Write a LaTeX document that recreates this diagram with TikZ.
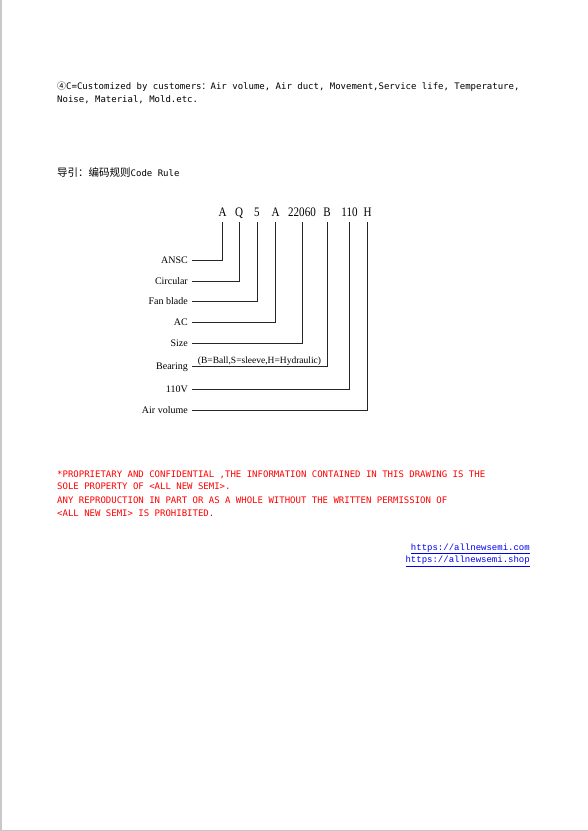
\documentclass[tikz,border=0pt]{standalone}
\usepackage{fontspec}
\usepackage{graphicx}
\setmainfont{Liberation Serif}
\newfontfamily\monofont{DejaVu Sans Mono}
\newfontfamily\linkfont{Liberation Mono}
\newfontfamily\cjkfont{Noto Sans CJK SC}
\definecolor{linkblue}{RGB}{0,0,238}
\definecolor{framegray}{RGB}{200,200,200}
\newcommand{\narrowtxt}[1]{\scalebox{0.85}[1]{#1}}
\tikzstyle{codechar}=[anchor=base, inner xsep=0pt, inner ysep=6pt, text depth=0pt, font=\fontsize{13}{15}\selectfont]
\tikzstyle{codelabel}=[anchor=east, inner xsep=4pt, inner ysep=0pt, text height=6pt, text depth=0pt, font=\fontsize{10}{12}\selectfont]
\tikzstyle{codeline}=[draw=black!85, line width=0.8pt]
\tikzstyle{plaintext}=[anchor=base west, inner sep=0pt, font=\monofont\fontsize{9}{11}\selectfont]
\tikzstyle{linktext}=[plaintext, anchor=base east, text=linkblue, font=\linkfont\fontsize{9}{11}\selectfont]
\begin{document}
\begin{tikzpicture}[x=1pt, y=-1pt]
        \useasboundingbox (0,0) rectangle (588,831);
        \fill[framegray] (0,0) rectangle (1.5,831);
        \fill[framegray] (0,829.5) rectangle (588,831);
        % customer note
        \node[plaintext] (tCustom1) at (57,89) {{\cjkfont ④}C=Customized by customers{\cjkfont ：}Air volume, Air duct, Movement,Service life, Temperature,};
        \node[plaintext] (tCustom2) at (57,102.6) {Noise, Material, Mold.etc.};
        \node[plaintext] (tHeader) at (57,176.7) {{\cjkfont\fontsize{10.5}{12}\selectfont 导引：编码规则}Code Rule};
        % code characters
        \node[codechar] (cA) at (222.7,216) {\narrowtxt{A}};
        \node[codechar] (cQ) at (239,216) {\narrowtxt{Q}};
        \node[codechar] (cFive) at (257,216) {\narrowtxt{5}};
        \node[codechar] (cAC) at (275.7,216) {\narrowtxt{A}};
        \node[codechar] (cSize) at (302,216) {\narrowtxt{22060}};
        \node[codechar] (cB) at (327,216) {\narrowtxt{B}};
        \node[codechar] (cVolt) at (349.5,216) {\narrowtxt{110}};
        \node[codechar] (cH) at (367.7,216) {\narrowtxt{H}};
        % labels
        \node[codelabel] (lANSC) at (192,260.7) {ANSC};
        \node[codelabel] (lCircular) at (192,281.7) {Circular};
        \node[codelabel] (lBlade) at (192,301.7) {Fan blade};
        \node[codelabel] (lAC) at (192,322.3) {AC};
        \node[codelabel] (lSize) at (192,343.3) {Size};
        \node[codelabel] (lBearing) at (192,366.8) {Bearing};
        \node[codelabel] (lVolt) at (192,389.4) {110V};
        \node[codelabel] (lVolume) at (192,410.2) {Air volume};
        \draw[codeline] (lANSC.east) -| (cA.south);
        \draw[codeline] (lCircular.east) -| (cQ.south);
        \draw[codeline] (lBlade.east) -| (cFive.south);
        \draw[codeline] (lAC.east) -| (cAC.south);
        \draw[codeline] (lSize.east) -| (cSize.south);
        \draw[codeline] (lBearing.east) -| node[pos=0.25, above, inner sep=0.5pt, font=\fontsize{9.5}{11}\selectfont] (nBearing) {(B=Ball,S=sleeve,H=Hydraulic)} (cB.south);
        \draw[codeline] (lVolt.east) -| (cVolt.south);
        \draw[codeline] (lVolume.east) -| (cH.south);
        % notice
        \node[plaintext, text=red] (tProp1) at (57,477) {*PROPRIETARY AND CONFIDENTIAL ,THE INFORMATION CONTAINED IN THIS DRAWING IS THE};
        \node[plaintext, text=red] (tProp2) at (57,489.5) {SOLE PROPERTY OF <ALL NEW SEMI>.};
        \node[plaintext, text=red] (tProp3) at (57,503.5) {ANY REPRODUCTION IN PART OR AS A WHOLE WITHOUT THE WRITTEN PERMISSION OF};
        \node[plaintext, text=red] (tProp4) at (57,516) {<ALL NEW SEMI> IS PROHIBITED.};
        \node[linktext] (tLink1) at (530,550) {\underline{https://allnewsemi.com}};
        \node[linktext] (tLink2) at (530,562.7) {\underline{https://allnewsemi.shop}};
    \end{tikzpicture}
\end{document}
